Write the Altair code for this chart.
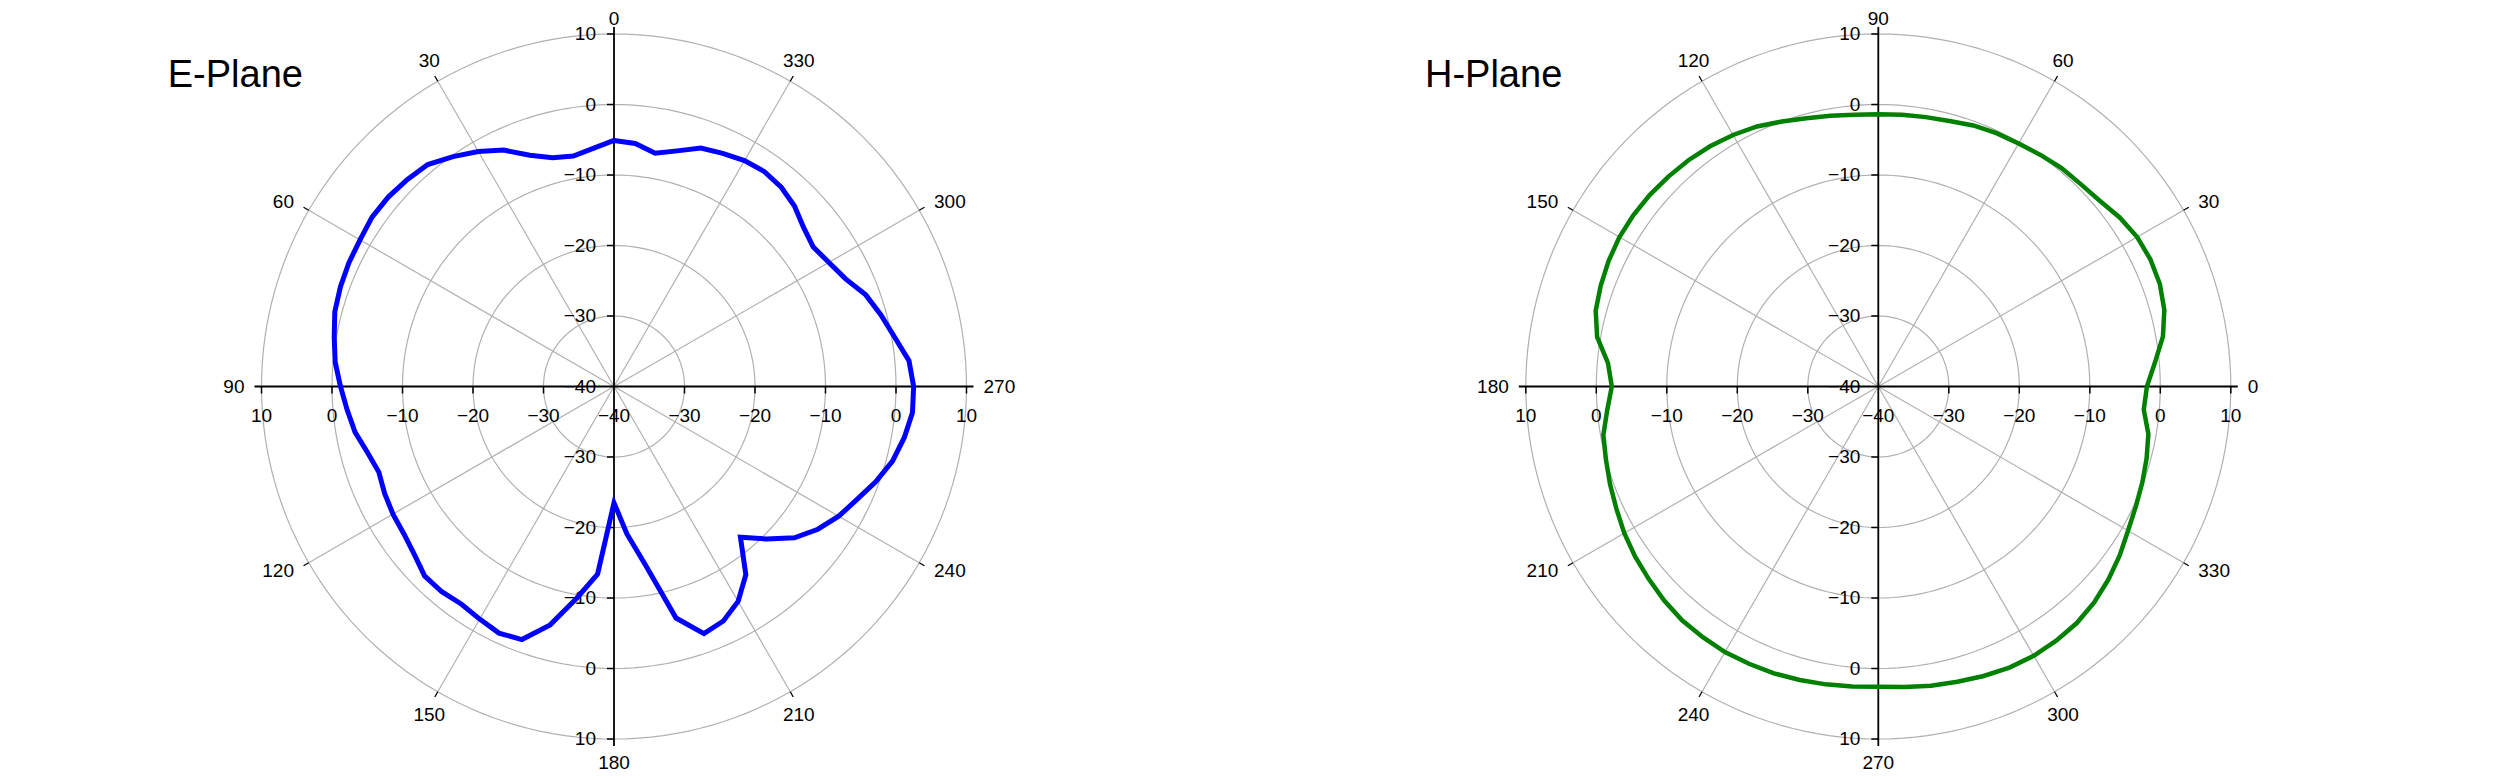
import altair as alt
import pandas as pd

# ---------------- data ----------------
angles = list(range(0, 360, 5))

e_plane_db = [-5.1, -6.1, -6.8, -6.4, -5.1, -3.0, -1.5, -0.2, 1.1, 1.5,
              1.8, 1.9, 1.6, 1.5, 1.3, 1.0, 0.3, -0.3, -1.2, -2.0,
              -2.7, -3.8, -4.5, -4.1, -3.8, -3.6, -3.0, -2.0, -2.0, -2.3,
              -1.9, -1.4, -1.8, -5.0, -9.5, -13.3, -23.5, -19.0, -14.3, -6.0,
              -2.7, -3.3, -4.8, -7.4, -12.1, -9.4, -6.6, -4.7, -3.2, -2.0,
              -0.5, 0.9, 1.8, 2.5, 2.5, 2.0, 0.4, -0.8, -2.0, -3.8,
              -4.8, -5.5, -4.9, -3.8, -3.1, -2.8, -3.0, -3.5, -4.0, -5.4,
              -6.4, -5.4]

h_plane_db = [-1.9, -0.6, 1.0, 2.0, 2.5, 2.6, 2.4, 1.8, 1.0, 0.6,
              0.45, 0.1, -0.2, -0.35, -0.6, -1.0, -1.2, -1.3, -1.4, -1.3,
              -1.0, -0.6, 0.0, 0.7, 1.2, 1.6, 1.9, 2.1, 2.3, 2.4,
              2.4, 2.2, 1.9, 1.5, 0.5, -1.5, -2.2, -1.4, -0.4, 0.0,
              0.5, 1.0, 1.6, 2.1, 2.5, 2.95, 3.3, 3.4, 3.5, 3.4,
              3.3, 3.1, 2.9, 2.7, 2.6, 2.8, 3.1, 3.35, 3.7, 4.0,
              4.1, 4.0, 3.8, 3.3, 2.6, 1.8, 0.9, 0.3, -0.15, -0.6,
              -1.1, -2.2]

ring_values = [-30, -20, -10, 0, 10]
axis_tick_values = [-40, -30, -20, -10, 0, 10]
angle_labels = list(range(0, 360, 30))
plane_titles = ["E-Plane", "H-Plane"]

# ---------------- layout ----------------
K = 7.05                    # pixels per dB
W, H = 2484, 764
CXL, CXR, CY = 606.0, 1870.3, 378.5
RMIN = -40
RSPAN = 50
XMIN, XMAX = -CXL / K, (W - CXL) / K
YMIN, YMAX = -(H - CY) / K, CY / K
OFF = (CXR - CXL) / K
LABEL_R = RSPAN + 17 / K
R_TOP = (CY - 16.5) / K       # keeps the top label inside the page
R_BOT = (760.5 - CY) / K      # keeps the bottom label inside the page
FONT = "Liberation Sans"
GRID = "#b0b0b0"

xs = alt.Scale(domain=[XMIN, XMAX], nice=False, zero=False)
ys = alt.Scale(domain=[YMIN, YMAX], nice=False, zero=False)


def XE():
    return alt.X("px:Q", scale=xs, axis=None)


def YE():
    return alt.Y("py:Q", scale=ys, axis=None)


def polar(values, rot, cx, color, lw, title, title_dx):
    layers = []
    # rings
    ring_df = pd.DataFrame([(r, a) for r in ring_values for a in range(0, 361, 2)],
                           columns=["ring", "a"])
    layers.append(
        alt.Chart(ring_df).transform_calculate(
            px=f"{cx} + (datum.ring - ({RMIN})) * cos(datum.a * PI / 180)",
            py=f"(datum.ring - ({RMIN})) * sin(datum.a * PI / 180)",
        ).mark_line(color=GRID, strokeWidth=1.2).encode(
            x=XE(), y=YE(), detail="ring:N", order="a:Q")
    )
    lab_df = pd.DataFrame({"lab": angle_labels})
    # spokes
    layers.append(
        alt.Chart(lab_df).transform_filter(
            f"(datum.lab + {rot}) % 90 != 0"
        ).transform_calculate(
            phi=f"(datum.lab + {rot}) * PI / 180",
            px=f"{cx}", py="0",
            px2=f"{cx} + {RSPAN} * cos(datum.phi)",
            py2=f"{RSPAN} * sin(datum.phi)",
        ).mark_rule(color=GRID, strokeWidth=1.2).encode(
            x=XE(), y=YE(), x2="px2:Q", y2="py2:Q")
    )
    # outer small ticks
    layers.append(
        alt.Chart(lab_df).transform_filter(
            f"(datum.lab + {rot}) % 90 != 0"
        ).transform_calculate(
            phi=f"(datum.lab + {rot}) * PI / 180",
            px=f"{cx} + {RSPAN} * cos(datum.phi)",
            py=f"{RSPAN} * sin(datum.phi)",
            px2=f"{cx} + {RSPAN + 6 / K} * cos(datum.phi)",
            py2=f"{RSPAN + 6 / K} * sin(datum.phi)",
        ).mark_rule(color="black", strokeWidth=1.3).encode(
            x=XE(), y=YE(), x2="px2:Q", y2="py2:Q")
    )
    # cross axes
    ext = RSPAN + 7 / K
    axis_df = pd.DataFrame({"d": [0, 90]})
    layers.append(
        alt.Chart(axis_df).transform_calculate(
            px=f"{cx} - {ext} * cos(datum.d * PI / 180)",
            px2=f"{cx} + {ext} * cos(datum.d * PI / 180)",
            py=f"-{ext} * sin(datum.d * PI / 180)",
            py2=f"{ext} * sin(datum.d * PI / 180)",
        ).mark_rule(color="black", strokeWidth=1.8).encode(
            x=XE(), y=YE(), x2="px2:Q", y2="py2:Q")
    )
    # axis ticks
    tick_df = pd.DataFrame([(v, s) for v in ring_values for s in (-1, 1)],
                           columns=["v", "side"])
    tl = 7 / K
    layers.append(
        alt.Chart(tick_df).transform_calculate(
            px=f"{cx} - {tl}", px2=f"{cx}",
            py=f"datum.side * (datum.v - ({RMIN}))",
        ).mark_rule(color="black", strokeWidth=1.5).encode(
            x=XE(), y=YE(), x2="px2:Q")
    )
    layers.append(
        alt.Chart(tick_df).transform_calculate(
            px=f"{cx} + datum.side * (datum.v - ({RMIN}))",
            py="0", py2=f"-{tl}",
        ).mark_rule(color="black", strokeWidth=1.5).encode(
            x=XE(), y=YE(), y2="py2:Q")
    )
    # axis tick labels
    lbl_df = pd.DataFrame([(v, s) for v in axis_tick_values for s in (1, -1)
                           if not (v == RMIN and s == -1)], columns=["v", "side"])
    layers.append(
        alt.Chart(lbl_df).transform_calculate(
            px=f"{cx}", py=f"datum.side * (datum.v - ({RMIN}))",
        ).mark_text(align="right", baseline="middle", dx=-18, fontSize=19,
                    font=FONT, color="black").encode(
            x=XE(), y=YE(), text=alt.Text("v:Q", format="d"))
    )
    layers.append(
        alt.Chart(lbl_df).transform_calculate(
            px=f"{cx} - datum.side * (datum.v - ({RMIN}))", py="0",
        ).mark_text(align="center", baseline="middle", dy=29, fontSize=19,
                    font=FONT, color="black").encode(
            x=XE(), y=YE(), text=alt.Text("v:Q", format="d"))
    )
    # angle labels
    base = alt.Chart(lab_df).transform_calculate(
        phi=f"(datum.lab + {rot}) * PI / 180",
    ).transform_calculate(
        c="cos(datum.phi)", s="sin(datum.phi)",
    )
    groups = [
        ("datum.c > 0.6", "left", "middle", LABEL_R),
        ("datum.c < -0.6", "right", "middle", LABEL_R),
        ("abs(datum.c) <= 0.6 && datum.s > 0 && datum.s < 0.99", "center", "alphabetic", LABEL_R),
        ("datum.s >= 0.99", "center", "alphabetic", R_TOP),
        ("abs(datum.c) <= 0.6 && datum.s < 0 && datum.s > -0.99", "center", "top", LABEL_R),
        ("datum.s <= -0.99", "center", "alphabetic", R_BOT),
    ]
    for cond, al, bl, rr in groups:
        layers.append(
            base.transform_filter(cond).transform_calculate(
                px=f"{cx} + {rr} * datum.c",
                py=f"{rr} * datum.s",
            ).mark_text(
                align=al, baseline=bl, fontSize=19, font=FONT, color="black"
            ).encode(x=XE(), y=YE(), text=alt.Text("lab:Q", format="d"))
        )
    # pattern curve
    curve_df = pd.DataFrame({"angle": angles + [360], "db": values + [values[0]]})
    layers.append(
        alt.Chart(curve_df).transform_calculate(
            phi=f"(datum.angle + {rot}) * PI / 180",
            px=f"{cx} + (datum.db - ({RMIN})) * cos(datum.phi)",
            py=f"(datum.db - ({RMIN})) * sin(datum.phi)",
        ).mark_line(color=color, strokeWidth=lw).encode(
            x=XE(), y=YE(), order="angle:Q")
    )
    # title
    t_df = pd.DataFrame({"t": [title]})
    layers.append(
        alt.Chart(t_df).transform_calculate(
            px=f"{cx} + ({title_dx})", py="42.5",
        ).mark_text(align="left", baseline="alphabetic", fontSize=38,
                    font=FONT, color="black").encode(
            x=XE(), y=YE(), text="t:N")
    )
    return layers


layers = polar(e_plane_db, 90, 0.0, "#0000ff", 5, plane_titles[0], -63.3)
layers += polar(h_plane_db, 0, OFF, "#008000", 4.5, plane_titles[1], -64.3)

chart = alt.layer(*layers).properties(
    width=W, height=H,
    autosize=alt.AutoSizeParams(type="none"),
    padding=0,
).configure_view(stroke=None)

chart.save("out.html", embed_options={"renderer": "svg", "actions": False})
